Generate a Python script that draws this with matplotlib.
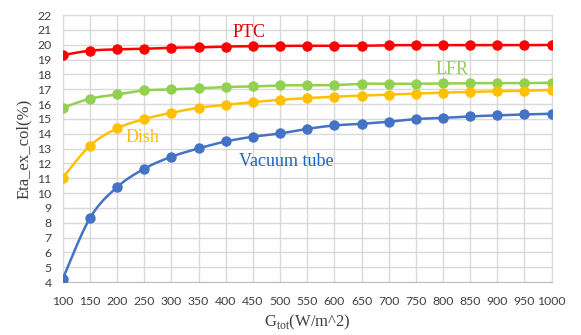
import numpy as np
import matplotlib.pyplot as plt

# irradiance (W/m^2)
G = [100, 150, 200, 250, 300, 350, 400, 450, 500, 550,
     600, 650, 700, 750, 800, 850, 900, 950, 1000]

# exergy efficiency of each collector (%)
ptc = [19.3, 19.6, 19.69, 19.73, 19.8, 19.82, 19.88, 19.9, 19.92, 19.93,
       19.93, 19.93, 19.97, 19.97, 19.97, 19.97, 19.97, 19.97, 19.99]
lfr = [15.75, 16.36, 16.65, 16.92, 16.99, 17.06, 17.15, 17.19, 17.26, 17.27,
       17.28, 17.37, 17.37, 17.37, 17.39, 17.41, 17.41, 17.41, 17.44]
dish = [11.03, 13.19, 14.36, 14.99, 15.41, 15.75, 15.95, 16.13, 16.29, 16.4,
        16.5, 16.57, 16.63, 16.7, 16.77, 16.82, 16.87, 16.9, 16.95]
vacuum = [4.22, 8.31, 10.4, 11.64, 12.45, 13.01, 13.48, 13.8, 14.02, 14.33,
          14.56, 14.67, 14.81, 14.99, 15.07, 15.17, 15.24, 15.3, 15.35]

series = [('PTC', ptc, '#FF0000', '#E00000', 442, 20.85),
          ('LFR', lfr, '#92D050', '#92D050', 817, 18.35),
          ('Dish', dish, '#FFC000', '#FFC000', 247, 13.75),
          ('Vacuum tube', vacuum, '#4472C4', '#1F63B5', 512, 12.1)]


def smooth(x, y, n=20):
    # Excel-style smoothed line: cubic Bezier segments, tension 1/6
    x = np.asarray(x, float)
    y = np.asarray(y, float)
    xs, ys = [], []
    t = np.linspace(0, 1, n)
    for i in range(len(x) - 1):
        p0 = np.array([x[max(i - 1, 0)], y[max(i - 1, 0)]])
        p1 = np.array([x[i], y[i]])
        p2 = np.array([x[i + 1], y[i + 1]])
        p3 = np.array([x[min(i + 2, len(x) - 1)], y[min(i + 2, len(x) - 1)]])
        c1 = p1 + (p2 - p0) / 6
        c2 = p2 - (p3 - p1) / 6
        pts = (np.outer((1 - t) ** 3, p1) + np.outer(3 * (1 - t) ** 2 * t, c1)
               + np.outer(3 * (1 - t) * t ** 2, c2) + np.outer(t ** 3, p2))
        xs.extend(pts[:, 0])
        ys.extend(pts[:, 1])
    return xs, ys


plt.rcParams['mathtext.fontset'] = 'custom'
plt.rcParams['mathtext.rm'] = 'Liberation Serif'

fig = plt.figure(figsize=(5.81, 3.35), dpi=100)
ax = fig.add_axes([0.108, 0.158, 0.8415, 0.797])

for name, vals, col, tcol, tx, ty in series:
    sx, sy = smooth(G, vals)
    ax.plot(sx, sy, color=col, lw=1.8, zorder=3)
    ax.plot(G, vals, 'o', color=col, ms=6.5, zorder=4)
    ax.text(tx, ty, name, color=tcol, fontsize=13, family='Liberation Serif',
            ha='center', va='center')

ax.set_xlim(100, 1000)
ax.set_ylim(4, 22)
ax.set_xticks(G)
ax.set_yticks(range(4, 23))
ax.grid(True, color='#D9D9D9', lw=1)
ax.tick_params(length=0, pad=10, labelsize=8.8, labelcolor='#404040')
for lab in ax.get_xticklabels() + ax.get_yticklabels():
    lab.set_family('Lato')
ax.tick_params(axis='y', pad=8)
for s in ax.spines.values():
    s.set_color('#D9D9D9')
ax.spines['bottom'].set_color('#BFBFBF')

ax.set_ylabel('Eta_ex_col(%)', family='Liberation Serif', fontsize=12,
              color='#404040', labelpad=4)
ax.set_xlabel(r'G$_{\mathrm{tot}}$(W/m^2)', family='Liberation Serif',
              fontsize=12, color='#404040', labelpad=4)

fig.savefig('out.png', dpi=100)
